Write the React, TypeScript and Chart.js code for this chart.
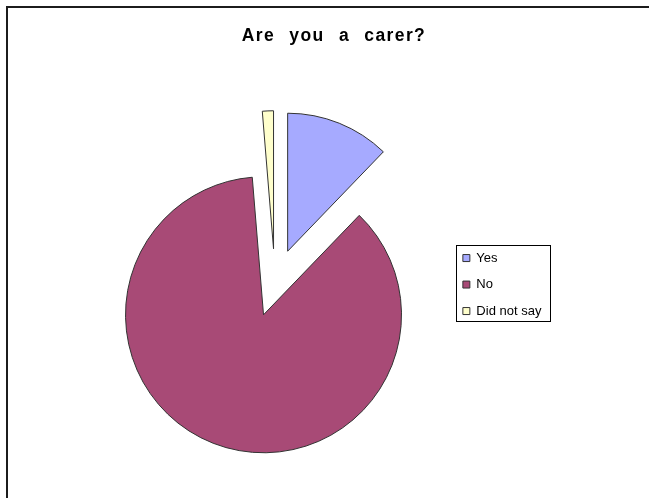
import { useEffect, useRef } from 'react';
import { Chart, registerables, ArcElement, PieController } from 'chart.js';

Chart.register(...registerables);

// ---- data ----
const categories = ['Yes', 'No', 'Did not say'];
const shares = [12.2, 86.5, 1.3];
const sliceColors = ['#A6AAFF', '#A84A76', '#FFFFCC'];
const chartTitle = 'Are you a carer?';

// Arc whose "offset" is a plain explosion distance (no radius/angle tweaks)
class ExplodedArc extends ArcElement {
  static id = 'explodedArc';
  draw(ctx: CanvasRenderingContext2D) {
    const self: any = this;
    const o: any = self.options;
    const { x, y, startAngle, endAngle, outerRadius } = self;
    if (endAngle === startAngle || outerRadius <= 0) return;
    const off = o.offset || 0;
    const mid = (startAngle + endAngle) / 2;
    ctx.save();
    ctx.translate(Math.cos(mid) * off, Math.sin(mid) * off);
    ctx.beginPath();
    ctx.moveTo(x, y);
    ctx.arc(x, y, outerRadius, startAngle, endAngle);
    ctx.closePath();
    ctx.fillStyle = o.backgroundColor;
    ctx.fill();
    if (o.borderWidth) {
      ctx.lineWidth = o.borderWidth;
      ctx.strokeStyle = o.borderColor;
      ctx.lineJoin = 'miter';
      ctx.stroke();
    }
    ctx.restore();
  }
}

class ExplodedPieController extends PieController {
  static id = 'explodedPie';
  static defaults = { ...(PieController as any).defaults, dataElementType: 'explodedArc' };
}

Chart.register(ExplodedArc as any, ExplodedPieController as any);

const decorPlugin = {
  id: 'decor',
  beforeDraw(chart: any) {
    const ctx = chart.ctx;
    ctx.save();
    ctx.fillStyle = '#ffffff';
    ctx.fillRect(0, 0, chart.width, chart.height);
    ctx.strokeStyle = '#1c1c1c';
    ctx.lineWidth = 2;
    ctx.strokeRect(7, 7, chart.width + 40, chart.height + 40);
    ctx.restore();
    const tb = chart.titleBlock;
    if (tb && !tb.__patched) {
      const orig = tb.draw.bind(tb);
      tb.draw = (area: any) => {
        ctx.save();
        (ctx as any).letterSpacing = '1.4px';
        (ctx as any).wordSpacing = '8px';
        ctx.translate(8, 0);
        orig(area);
        ctx.restore();
      };
      tb.__patched = true;
    }
  },
  afterDraw(chart: any) {
    const lg = chart.legend;
    if (!lg || !lg.legendHitBoxes || !lg.legendHitBoxes.length) return;
    const hb = lg.legendHitBoxes;
    const last = hb[hb.length - 1];
    const x0 = Math.round(hb[0].left - 7) + 0.5;
    const y0 = Math.round(hb[0].top - 7) + 0.5;
    const x1 = Math.round(lg.right) - 0.5;
    const y1 = Math.round(last.top + last.height + 3) + 0.5;
    const ctx = chart.ctx;
    ctx.save();
    ctx.strokeStyle = '#000';
    ctx.lineWidth = 1;
    ctx.strokeRect(x0, y0, x1 - x0, y1 - y0);
    ctx.restore();
  },
};

export default function App() {
  const canvasRef = useRef<HTMLCanvasElement | null>(null);

  useEffect(() => {
    const canvas = canvasRef.current;
    if (!canvas) return;
    Chart.defaults.font.family = '"Liberation Sans", Arial, sans-serif';
    Chart.defaults.color = '#000';
    const chart = new Chart(canvas, {
      type: 'explodedPie' as any,
      data: {
        labels: categories,
        datasets: [
          {
            data: shares,
            backgroundColor: sliceColors,
            borderColor: '#333333',
            borderWidth: 1,
            offset: 34,
          } as any,
        ],
      },
      options: {
        responsive: false,
        animation: false,
        events: [],
        radius: 138,
        layout: { padding: { left: 100.5, right: 97.6, top: 0, bottom: 0 } },
        plugins: {
          title: {
            display: true,
            text: chartTitle,
            color: '#000',
            font: { size: 17.5, weight: 'bold' },
            padding: { top: 25.5, bottom: 21 },
          },
          legend: {
            display: true,
            position: 'right',
            fullSize: false,
            title: { display: true, text: '', font: { size: 3 }, padding: 0 },
            labels: {
              boxWidth: 7,
              boxHeight: 7,
              padding: 13.5,
              color: '#000',
              font: { size: 13 },
            },
          },
          tooltip: { enabled: false },
        },
      } as any,
      plugins: [decorPlugin],
    });
    return () => chart.destroy();
  }, []);

  return (
    <div style={{ position: 'absolute', left: 0, top: 0, width: 649, height: 498, background: '#fff' }}>
      <canvas ref={canvasRef} width={649} height={498} style={{ display: 'block' }} />
    </div>
  );
}
